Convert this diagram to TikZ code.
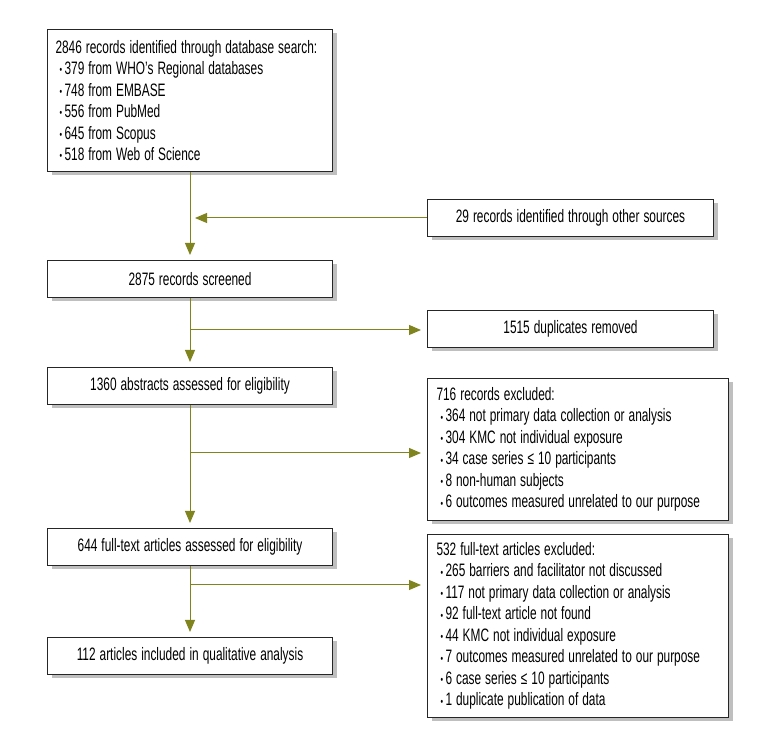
\documentclass[tikz,border=0pt]{standalone}
\usepackage{fontspec}
\setmainfont{Liberation Sans}[FakeStretch=0.66]
\usetikzlibrary{positioning, arrows.meta, shadows}
\definecolor{prismaolive}{RGB}{128,132,30}
\newcommand{\bul}{\hspace*{4pt}\raisebox{0.8pt}{\fontsize{11}{11}\selectfont\textbullet}\hspace{2.5pt}}

\begin{document}
\begin{tikzpicture}[x=1pt, y=1pt, >={Triangle[length=12pt,width=10pt]},
	box/.style={draw=black!85, line width=1pt, fill=white,
		drop shadow={shadow xshift=4pt, shadow yshift=-4pt, fill=black!25, opacity=1},
		inner xsep=8pt, inner ysep=4pt, font=\fontsize{18}{21.5}\selectfont,
		execute at begin node={\spaceskip=4pt\relax}},
	mainbox/.style={box, text width=269pt, minimum height=37pt, align=center},
	sidebox/.style={box, text width=270pt, minimum height=37pt, align=center},
	listbox/.style={box, inner xsep=9pt, text width=283pt, align=left},
	arr/.style={->, draw=prismaolive, line width=1pt, shorten >=5pt}]

	\useasboundingbox (0,0) rectangle (771,746);

		\node (search) [box, text width=269pt, minimum height=142pt, align=left, anchor=north west] at (47,717)
			{\mbox{2846 records identified through database search:}\\
			\bul 379 from WHO’s Regional databases\\
			\bul 748 from EMBASE\\
			\bul 556 from PubMed\\
			\bul 645 from Scopus\\
			\bul 518 from Web of Science};
		\node (screened) [mainbox, below=88pt of search] {2875 records screened};
		\node (abstracts) [mainbox, below=69pt of screened] {1360 abstracts assessed for eligibility};
		\node (fulltext) [mainbox, below=123pt of abstracts] {644 full-text articles assessed for eligibility};
		\node (included) [mainbox, below=71pt of fulltext] {112 articles included in qualitative analysis};

		\node (other) [sidebox, anchor=north west] at ([shift={(94pt,-27pt)}]search.south east)
			{29 records identified through other sources};
		\node (removed) [sidebox, anchor=north west] at ([shift={(94pt,-12pt)}]screened.south east)
			{1515 duplicates removed};
		\node (excl1) [listbox, minimum height=142pt, anchor=north west] at ([shift={(94pt,-11pt)}]abstracts.north east)
			{716 records excluded:\\
			\bul 364 not primary data collection or analysis\\
			\bul 304 KMC not individual exposure\\
			\bul 34 case series ≤ 10 participants\\
			\bul 8 non-human subjects\\
			\bul 6 outcomes measured unrelated to our purpose};
		\node (excl2) [listbox, minimum height=183pt, anchor=north west] at ([shift={(94pt,-6pt)}]fulltext.north east)
			{532 full-text articles excluded:\\
			\bul 265 barriers and facilitator not discussed\\
			\bul 117 not primary data collection or analysis\\
			\bul 92 full-text article not found\\
			\bul 44 KMC not individual exposure\\
			\bul 7 outcomes measured unrelated to our purpose\\
			\bul 6 case series ≤ 10 participants\\
			\bul 1 duplicate publication of data};

		% branch points on the main line
		\coordinate (b1) at ([yshift=-32pt]screened.south);
		\coordinate (b2) at ([yshift=-48pt]abstracts.south);
		\coordinate (b3) at ([yshift=-19pt]fulltext.south);

		\draw[arr] (search) -- (screened);
		\draw[arr] (screened) -- (abstracts);
		\draw[arr] (abstracts) -- (fulltext);
		\draw[arr] (fulltext) -- (included);

		\draw[arr] (other.west) -- (other.west -| search.south);
		\draw[arr, shorten >=6pt] (b1) -- (b1 -| removed.west);
		\draw[arr, shorten >=6pt] (b2) -- (b2 -| excl1.west);
		\draw[arr, shorten >=6pt] (b3) -- (b3 -| excl2.west);

\end{tikzpicture}
\end{document}
